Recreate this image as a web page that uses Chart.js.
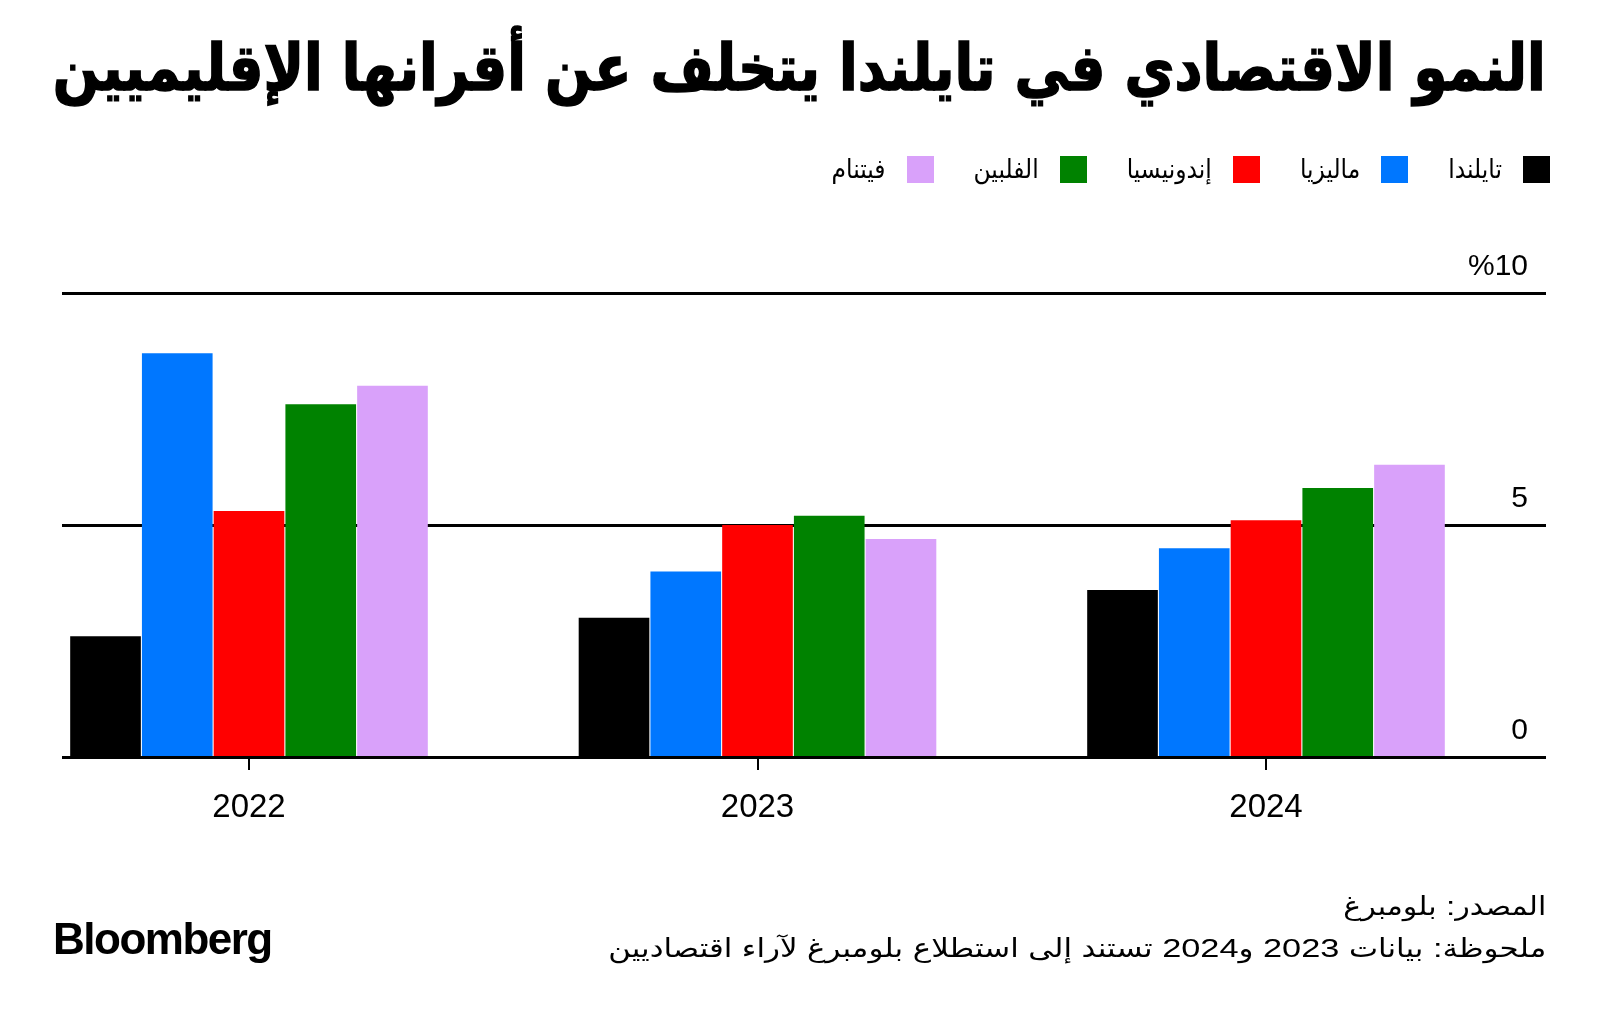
<!DOCTYPE html>
<html lang="ar">
<head>
<meta charset="utf-8">
<script src="https://cdn.jsdelivr.net/npm/chart.js@4.4.1/dist/chart.umd.min.js"></script>
<style>
  html, body { margin: 0; padding: 0; background: #fff; }
  #page { position: relative; width: 1600px; height: 1016px; overflow: hidden; }
  #chart { position: absolute; left: 0; top: 0; }
  .ar { position: absolute; direction: rtl; white-space: nowrap; color: #000;
        font-family: "DejaVu Sans Condensed", "DejaVu Sans", sans-serif; line-height: 1;
        transform-origin: right center; }
  #title { right: 54px; top: 36px; font-size: 64px; font-weight: bold; -webkit-text-stroke: 1.5px #000; }
  #legend { position: absolute; right: 50px; top: 154px; display: flex; direction: rtl; }
  .item { display: flex; align-items: center; margin-left: 40px; }
  .box { width: 27px; height: 27px; margin-left: 21px; }
  .label { font-family: "DejaVu Sans Condensed", "DejaVu Sans", sans-serif; font-size: 26px; white-space: nowrap; }
  #source { right: 54px; top: 893px; font-size: 26px; font-family: "Liberation Sans", "DejaVu Sans Condensed", "DejaVu Sans"; }
  #note { right: 54px; top: 935px; font-size: 26px; font-family: "Liberation Sans", "DejaVu Sans Condensed", "DejaVu Sans"; }
  #logo { position: absolute; left: 53px; top: 917px; font: bold 44px "Liberation Sans", Arial, sans-serif;
          letter-spacing: -1.5px; line-height: 1; }
</style>
</head>
<body>
<div id="page">
  <canvas id="chart" width="1600" height="1016"></canvas>
  <div id="title" class="ar">النمو الاقتصادي في تايلندا يتخلف عن أقرانها الإقليميين</div>
  <div id="legend"></div>
  <div id="source" class="ar">المصدر: بلومبرغ</div>
  <div id="note" class="ar">ملحوظة: بيانات 2023 و2024 تستند إلى استطلاع بلومبرغ لآراء اقتصاديين</div>
  <div id="logo">Bloomberg</div>
</div>
<script>
const years = ['2022', '2023', '2024'];
const countries = ['تايلندا', 'ماليزيا', 'إندونيسيا', 'الفلبين', 'فيتنام'];
const colors = ['#000000', '#0077ff', '#ff0000', '#008200', '#d9a1fa'];
const thailand = [2.6, 3.0, 3.6];
const malaysia = [8.7, 4.0, 4.5];
const indonesia = [5.3, 5.0, 5.1];
const philippines = [7.6, 5.2, 5.8];
const vietnam = [8.0, 4.7, 6.3];
const yTicks = [0, 5, 10];
const yTickLabels = ['0', '5', '%10'];

const series = [thailand, malaysia, indonesia, philippines, vietnam];

// legend (html, right to left)
const legend = document.getElementById('legend');
countries.forEach((name, i) => {
    const item = document.createElement('div');
    item.className = 'item';
    item.innerHTML = '<div class="box" style="background:' + colors[i] + '"></div><span class="label">' + name + '</span>';
    legend.appendChild(item);
});

// horizontal rules wider than the plot area, 0 line on top of the bars
function drawRules(chart, keep) {
    const ctx = chart.ctx, y = chart.scales.y;
    ctx.save();
    ctx.strokeStyle = '#000';
    ctx.lineWidth = 3;
    y.ticks.forEach(t => {
        if (!keep(t.value)) return;
        const py = Math.round(y.getPixelForValue(t.value)) + 0.5;
        ctx.beginPath();
        ctx.moveTo(62, py);
        ctx.lineTo(1546, py);
        ctx.stroke();
    });
    ctx.restore();
}
const rules = {
    id: 'rules',
    beforeDatasetsDraw(chart) { drawRules(chart, v => v !== 0); },
    afterDatasetsDraw(chart) { drawRules(chart, v => v === 0); }
};

new Chart(document.getElementById('chart'), {
    type: 'bar',
    data: {
        labels: years,
        datasets: series.map((data, i) => ({
            label: countries[i],
            data: data,
            backgroundColor: colors[i],
            borderWidth: 0,
            barPercentage: 0.985,
            categoryPercentage: 0.7054,
            clip: false
        }))
    },
    options: {
        responsive: false,
        animation: false,
        devicePixelRatio: 1,
        layout: { padding: { left: 249, right: 72, top: 293, bottom: 170 } },
        plugins: { legend: { display: false }, tooltip: { enabled: false } },
        scales: {
            x: {
                offset: false,
                afterFit: s => { s.height = 89; },
                grid: { offset: false, drawOnChartArea: false, drawTicks: true, tickLength: 13, color: '#000', lineWidth: 2 },
                border: { display: false },
                ticks: { color: '#000', padding: 18, font: { family: 'Liberation Sans', size: 33 } }
            },
            y: {
                position: 'right',
                min: 0,
                max: 10,
                afterFit: s => { s.width = 262; },
                grid: { display: false, drawTicks: false },
                border: { display: false },
                ticks: {
                    stepSize: 5,
                    color: '#000',
                    crossAlign: 'far',
                    padding: 202,
                    labelOffset: -26,
                    font: { family: 'Liberation Sans', size: 30 },
                    callback: v => yTickLabels[yTicks.indexOf(v)]
                }
            }
        }
    },
    plugins: [rules]
});

// squeeze the arabic lines to the reference widths
function fitWidth(id, target) {
    const el = document.getElementById(id);
    const w = el.getBoundingClientRect().width;
    el.style.transform = 'scaleX(' + (target / w) + ')';
}
fitWidth('title', 1493);
fitWidth('source', 203);
fitWidth('note', 938);
</script>
</body>
</html>
